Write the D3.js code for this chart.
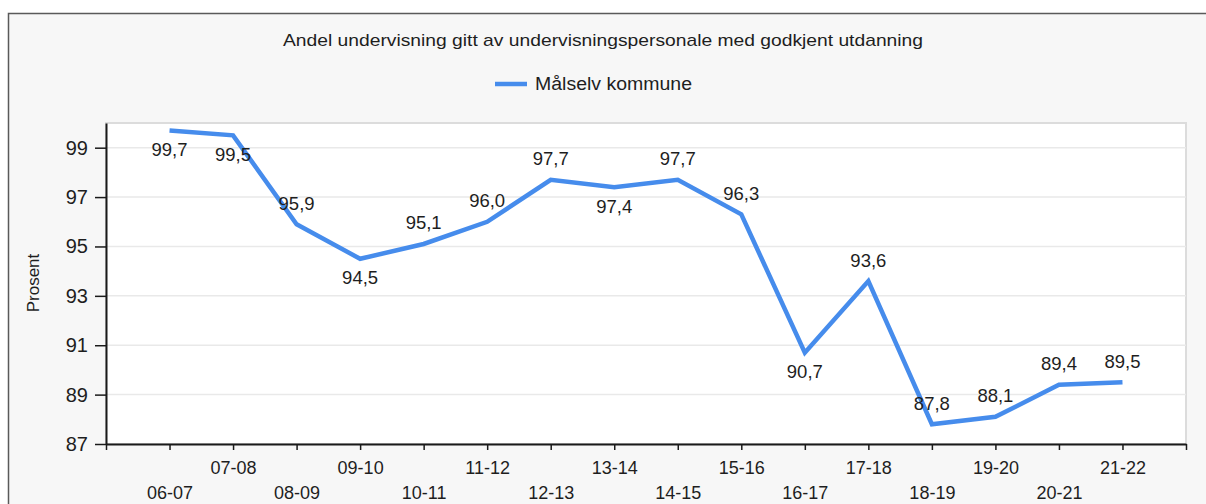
<!DOCTYPE html>
<html>
<head>
<meta charset="utf-8">
<script src="https://cdn.jsdelivr.net/npm/d3@7"></script>
<style>
  html, body { margin: 0; padding: 0; background: #fff; }
  svg { display: block; font-family: "Liberation Sans", Arial, sans-serif; }
</style>
</head>
<body>
<svg id="chart" width="1206" height="504"></svg>
<script>
// Data
const periods = ['06-07', '07-08', '08-09', '09-10', '10-11', '11-12', '12-13', '13-14',
  '14-15', '15-16', '16-17', '17-18', '18-19', '19-20', '20-21', '21-22'];
const values = [99.7, 99.5, 95.9, 94.5, 95.1, 96.0, 97.7, 97.4, 97.7, 96.3, 90.7, 93.6,
  87.8, 88.1, 89.4, 89.5];
const labelBelow = ['06-07', '07-08', '09-10', '13-14', '16-17'];
const yTicks = [87, 89, 91, 93, 95, 97, 99];
const title = 'Andel undervisning gitt av undervisningspersonale med godkjent utdanning';
const seriesName = 'Målselv kommune';

// Style values
const lineColor = '#468cec';
const textColor = '#1e1e1e';
const gridColor = '#e9e9e9';

const svg = d3.select('#chart');
const width = 1206;

// Outer frame
svg.append('rect')
  .attr('x', 8.5).attr('y', 13.5)
  .attr('width', 1220).attr('height', 520)
  .attr('fill', '#f7f7f7')
  .attr('stroke', '#5a5a5a')
  .attr('stroke-width', 1.5);

const plot = { left: 106, right: 1186, top: 123, bottom: 444 };

const x = d3.scaleLinear().domain([-1, periods.length]).range([plot.left, plot.right]);
const y = d3.scaleLinear().domain([87, 100]).range([plot.bottom, plot.top]);

// Plot background
svg.append('rect')
  .attr('x', plot.left).attr('y', plot.top)
  .attr('width', plot.right - plot.left).attr('height', plot.bottom - plot.top)
  .attr('fill', '#fff')
  .attr('stroke', '#dcdcdc')
  .attr('stroke-width', 2);

// Gridlines
svg.append('g')
  .selectAll('line')
  .data(yTicks.filter((d) => d > 87))
  .enter()
  .append('line')
  .attr('x1', plot.left).attr('x2', plot.right)
  .attr('y1', (d) => y(d)).attr('y2', (d) => y(d))
  .attr('stroke', gridColor)
  .attr('stroke-width', 1.5);

// Title and legend
svg.append('text')
  .attr('x', width / 2).attr('y', 40)
  .attr('text-anchor', 'middle')
  .attr('dominant-baseline', 'central')
  .attr('font-size', 17)
  .attr('textLength', 640)
  .attr('lengthAdjust', 'spacingAndGlyphs')
  .attr('fill', textColor)
  .text(title);

const legend = svg.append('g').attr('transform', 'translate(495, 84)');
legend.append('line')
  .attr('x1', 0).attr('x2', 32)
  .attr('stroke', lineColor)
  .attr('stroke-width', 4.5);
legend.append('text')
  .attr('x', 40)
  .attr('dominant-baseline', 'central')
  .attr('font-size', 18)
  .attr('textLength', 157)
  .attr('lengthAdjust', 'spacingAndGlyphs')
  .attr('fill', textColor)
  .text(seriesName);

// Y axis
const yAxis = svg.append('g')
  .attr('transform', `translate(${plot.left},0)`)
  .call(d3.axisLeft(y).tickValues(yTicks).tickSize(11).tickSizeOuter(0).tickPadding(7));
yAxis.select('.domain').attr('stroke', '#1a1a1a').attr('stroke-width', 2);
yAxis.selectAll('.tick line').attr('stroke', '#1a1a1a').attr('stroke-width', 1.5);
yAxis.selectAll('.tick text')
  .attr('font-size', 20)
  .attr('fill', textColor)
  .attr('font-family', '"Liberation Sans", Arial, sans-serif');

// X axis
const xAxis = svg.append('g')
  .attr('transform', `translate(0,${plot.bottom})`)
  .call(
    d3.axisBottom(x)
      .tickValues(d3.range(-1, periods.length + 1))
      .tickSize(6)
      .tickSizeOuter(0)
      .tickFormat((i) => periods[i] || '')
  );
xAxis.select('.domain').attr('stroke', '#1a1a1a').attr('stroke-width', 2);
xAxis.selectAll('.tick line').attr('stroke', '#1a1a1a').attr('stroke-width', 1.5);
xAxis.selectAll('.tick text')
  .attr('font-size', 18)
  .attr('fill', textColor)
  .attr('font-family', '"Liberation Sans", Arial, sans-serif')
  .attr('dy', null)
  .attr('dominant-baseline', 'central')
  .attr('y', (i) => (i % 2 === 0 ? 49 : 24));

// Y axis title
svg.append('text')
  .attr('transform', 'translate(33, 283) rotate(-90)')
  .attr('text-anchor', 'middle')
  .attr('dominant-baseline', 'central')
  .attr('font-size', 17)
  .attr('fill', textColor)
  .text('Prosent');

// Series line
const line = d3.line()
  .x((d, i) => x(i))
  .y((d) => y(d));

svg.append('path')
  .datum(values)
  .attr('d', line)
  .attr('fill', 'none')
  .attr('stroke', lineColor)
  .attr('stroke-width', 4.5)
  .attr('stroke-linejoin', 'miter');

// Data labels
svg.append('g')
  .selectAll('text')
  .data(values)
  .enter()
  .append('text')
  .attr('x', (d, i) => x(i))
  .attr('y', (d, i) => y(d) + (labelBelow.includes(periods[i]) ? 19 : -21))
  .attr('text-anchor', 'middle')
  .attr('dominant-baseline', 'central')
  .attr('font-size', 18.5)
  .attr('fill', textColor)
  .text((d) => d.toFixed(1).replace('.', ','));
</script>
</body>
</html>
